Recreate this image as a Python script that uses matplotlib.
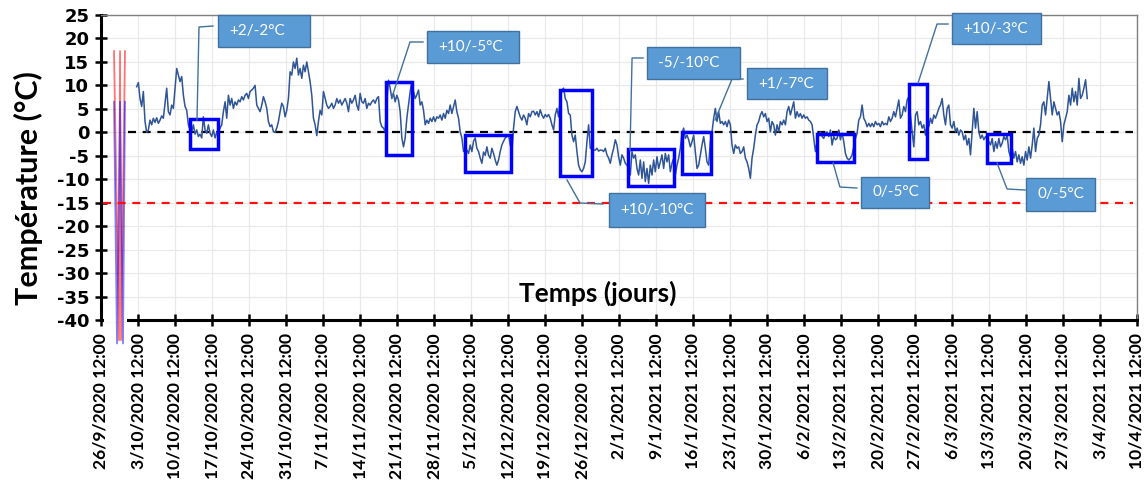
import numpy as np
import pandas as pd
import matplotlib
matplotlib.use("Agg")
import matplotlib.pyplot as plt
from matplotlib.patches import Rectangle

# ---------------- data ----------------
# time axis: days counted from 26/9/2020 12:00
axis_start = "2020-09-26"
tick_step_days = 7
n_ticks = 29
first_sample_day = 6.75        # first reading (~3/10/2020)
sample_step_days = 0.3155      # spacing of the readings

temps_oct = [9.7, 10.6, 7.2, 5.5, 8.7, 2.3, 0.0, 0.5, 2.6, 1.6,
             3.0, 2.1, 3.1, 1.9, 2.6, 3.5, 3.0, 6.2, 9.4, 4.4,
             3.7, 5.8, 5.1, 9.4, 13.6, 12.2, 10.8, 11.9, 7.9, 5.5,
             4.7, 1.6, 0.5, 0.1, 1.6, -0.4, 0.5, -0.9, -0.4, -1.2,
             3.3, 0.5, -0.2, 1.6, -0.2, -0.9, 0.5, -1.2, 0.0, 0.0,
             0.9, 1.6, 4.4, 6.5, 3.0, 7.9, 5.8, 7.2, 5.1, 6.5,
             5.8, 6.9, 6.5, 7.6, 6.9, 7.9, 8.3, 7.2, 8.7, 9.0,
             9.4, 10.0, 5.8, 5.1, 4.4, 5.8, 7.6, 6.5, 5.1, 2.3,
             1.2, 1.6, 0.1, 0.0, 0.9, 2.3, 4.4, 6.2, 5.5, 3.3,
             4.7, 7.2, 12.9, 12.2, 15.0, 13.6, 15.8, 12.2, 13.6, 11.5,
             14.3, 12.9, 15.0, 12.9, 10.8, 7.9, 3.0, 1.6, -0.7, 2.3,
             4.7, 3.7, 8.7, 7.2, 5.8, 5.1, 5.5]

temps_nov = [6.2, 5.1, 5.8, 7.2, 6.2, 6.9, 5.8, 6.5, 7.2, 6.2,
             4.4, 7.2, 6.2, 6.9, 7.9, 5.8, 4.7, 8.3, 6.5, 6.2,
             7.2, 5.1, 6.2, 5.8, 6.5, 6.9, 6.2, 7.2, 7.6, 2.3,
             1.2, 0.9, 0.1, 6.5, 11.1, 9.4, 7.2, 8.3, 6.5, 7.9,
             6.9, 4.4, -1.2, -3.1, -1.2, 3.0, 5.8, 8.7, 10.8, 8.7,
             7.2, 8.0, 9.0, 5.8, 6.5, 4.7, 1.6, 2.6, 1.9, 3.0,
             2.3, 3.3, 2.3, 3.3, 3.0, 3.7, 2.6, 4.0, 3.0, 4.7,
             4.0, 5.8, 4.0, 5.5, 6.9, 4.4, 3.0, 0.1, -1.2, -4.1,
             -3.4, -3.8, -4.5, -2.7, -4.1, -1.9, -1.2, -3.4, -4.1, -5.5,
             -6.6, -4.2, -4.9, -3.1, -4.9, -5.5, -3.4, -4.5, -5.9, -7.0,
             -5.9, -4.1, -2.7, -1.9, -1.2, -0.9, -0.5, -2.7, -4.1, 0.9,
             4.4, 5.5, 4.4, 3.3, 2.6]

temps_dec = [3.7, 3.0, 1.6, 4.0, 3.3, 4.4, 4.5, 3.7, 4.4, 3.3,
             4.8, 3.7, 3.0, 3.8, 3.3, 3.8, 3.0, 1.6, 0.5, 3.7,
             5.1, 3.3, 7.2, 9.0, 9.4, 7.2, 6.5, 4.0, 3.7, -0.6,
             -2.0, -0.6, -4.1, -7.0, -8.0, -8.4, -7.7, -6.3, -2.0, 1.6,
             -3.4, -3.6, -3.8, -3.8, -3.4, -4.0, -3.8, -3.8, -4.1, -3.4,
             -4.8, -5.5, -6.6, -4.8, -3.4, -1.6, -2.7, -5.2, -7.0, -4.8,
             -5.5, -6.6, -7.0, -7.7, -9.1, -4.1, -5.5, -4.8, -7.7, -9.1,
             -5.9, -9.8, -6.3, -10.5, -7.7, -10.9, -7.0, -9.1, -5.9, -8.4,
             -5.2, -7.7, -6.3, -4.8, -7.7, -4.5, -6.3, -4.8, -8.4, -6.6,
             -5.5, -9.1, -7.0, -5.5, -3.4, -0.2, 0.9, -1.3, -0.6, -1.6,
             -3.1, -2.0, -0.6, -4.1, -7.7, -7.0, -4.8, -2.7, -0.9, -3.4,
             -6.3, -7.0, -2.0, 0.1, 3.0, 5.1, 2.3, 4.4]

temps_jan = [1.9, 2.3, 1.6, 2.3, 1.2, 2.6, 1.6, -2.7, -4.5, -2.7,
             -3.4, -3.1, -4.5, -4.1, -3.1, -5.5, -6.3, -7.7, -9.8, -5.5,
             -3.4, -0.6, 1.6, 2.3, 3.7, 4.4, 3.3, 4.0, 2.3, 3.0,
             0.1, 2.3, 1.6, -0.6, 1.6, 0.1, 2.3, 1.6, 2.6, 1.6,
             4.4, 5.5, 3.7, 5.1, 6.5, 3.0, 4.4, 3.3, 4.0, 3.0,
             3.7, 3.0, 3.3, 2.6, 2.3, 1.6, -1.3, -4.1, -2.0, -0.6,
             0.1, -0.9, -1.3, -0.2, 0.1, -0.9, 0.5, -2.7, -0.9, -1.6,
             -1.3, 0.5, -1.6, -0.2, -2.0, -4.5, -5.5, -5.9, -5.5, -4.8,
             -3.1, -1.3, -0.2, 2.6, 3.3, 5.8, 3.0, 2.3, 1.2, 1.9,
             1.2, 1.9, 1.2, 2.3, 1.6, 1.9, 1.2, 2.3, 1.6, 1.9,
             1.6, 3.3, 2.3, 3.0, 4.4, 3.3, 5.1, 6.9, 3.0, 3.7,
             5.5, 4.4, 6.9]

temps_mar = [7.6, 3.7, 0.1, -3.1, 3.7, 4.4, 1.6, 2.3, 0.9, 1.6,
             -0.6, 1.6, 1.2, 3.0, 1.9, 3.7, 3.0, 4.0, 5.1, 5.8,
             7.2, 3.7, 1.6, 5.1, 5.8, 1.6, 0.9, 2.3, 0.1, 0.9,
             -0.6, 0.5, 0.1, -1.6, -0.6, -2.7, -1.3, -4.8, 0.1, 5.1,
             0.9, 4.4, 0.1, -1.3, -0.6, -1.6, -0.9, -1.6, -2.0, -2.7,
             -1.3, -4.1, -2.0, -3.4, -1.3, -3.1, -2.3, -0.9, -1.6, -0.6,
             -4.1, -5.2, -3.4, -5.5, -4.1, -6.3, -4.8, -6.6, -5.2, -7.0,
             -4.1, -5.9, -3.1, -5.5, -2.7, 0.9, -4.1, -1.3, -0.6, 1.6,
             5.8, 6.5, 3.7, 7.2, 10.8, 7.2, 3.7, 6.5, 5.1, 3.7,
             4.4, 2.3, -2.0, 1.6, 3.0, 4.4, 7.9, 5.8, 9.4, 6.5,
             8.7, 5.8, 11.5, 7.2, 7.9, 9.4, 11.2, 7.2]

zero_level = 0.0
frost_limit = -15.0

# spurious spikes at the start of the record
spike_red_days = [2.46, 3.40, 3.60, 3.80, 4.54]
spike_red_temps = [17.3, -44.3, 17.3, -44.3, 17.3]
spike_blue_days = [2.46, 3.03, 3.60, 4.16, 4.54]
spike_blue_temps = [6.5, -45.0, 6.5, -45.0, 6.5]

# highlighted zones (days, °C)
zone_day_start = [16.8, 53.9, 68.9, 86.8, 99.7, 109.9, 135.5, 152.9, 167.6]
zone_day_end = [22.1, 58.8, 77.6, 92.9, 108.4, 115.4, 142.5, 156.3, 172.2]
zone_temp_low = [-3.6, -4.9, -8.5, -9.3, -11.5, -8.9, -6.3, -5.6, -6.6]
zone_temp_high = [2.8, 10.7, -0.6, 9.0, -3.6, 0.0, -0.4, 10.2, -0.3]

callout_texts = ["+2/-2°C", "+10/-5°C", "+10/-10°C", "-5/-10°C",
                 "+1/-7°C", "0/-5°C", "+10/-3°C", "0/-5°C"]

y_ticks = list(range(-40, 30, 5))

# ---------------- figure ----------------
W, H = 1146, 487
fig = plt.figure(figsize=(W / 100, H / 100), dpi=100)
ax = fig.add_axes([101 / W, 1 - 320 / H, (1137 - 101) / W, 305 / H])

span_days = tick_step_days * (n_ticks - 1)
ax.set_xlim(0, span_days)
ax.set_ylim(-40, 25)

tick_dates = pd.date_range(axis_start, periods=n_ticks, freq=f"{tick_step_days}D")
tick_labels = [f"{d.day}/{d.month}/{d.year} 12:00" for d in tick_dates]
ax.set_xticks(np.arange(n_ticks) * tick_step_days)
ax.set_xticklabels(tick_labels, rotation=90, fontsize=12.6, fontweight="bold",
                   family=["Lato", "DejaVu Sans"])
ax.set_yticks(y_ticks)
ax.set_yticklabels([str(v) for v in y_ticks], fontsize=13, fontweight="bold",
                   family=["DejaVu Sans"])

ax.grid(True, color="#E9E9E9", lw=0.9, zorder=0)
ax.set_axisbelow(True)
for s in ("left", "bottom"):
    ax.spines[s].set_linewidth(2.2)
    ax.spines[s].set_color("black")
for s in ("top", "right"):
    ax.spines[s].set_linewidth(1.0)
    ax.spines[s].set_color("#7F7F7F")
ax.tick_params(axis="both", direction="inout", length=9, width=1.8, color="black")
ax.tick_params(axis="y", pad=4)
ax.tick_params(axis="x", pad=5)

# gap in the time axis where the spikes cross it
ax.plot([0.6, 4.9], [-40, -40], color="white", lw=3.0, clip_on=False, zorder=2.7,
        solid_capstyle="butt")

# spikes
ax.plot(spike_red_days, spike_red_temps, color="#FF0000", alpha=0.55, lw=1.3,
        clip_on=False, zorder=2.8)
ax.plot(spike_blue_days, spike_blue_temps, color="#0000FF", alpha=0.5, lw=1.3,
        clip_on=False, zorder=2.8)

# reference lines
ax.plot([5.1, 195.3], [zero_level, zero_level], color="black", lw=1.6,
        dashes=(3.6, 3.0), zorder=3)
ax.plot([0.4, 195.3], [frost_limit, frost_limit], color="#FF1010", lw=1.6,
        dashes=(3.6, 3.0), zorder=3)

# temperature series
temps = np.array(temps_oct + temps_nov + temps_dec + temps_jan + temps_mar)
days = first_sample_day + sample_step_days * np.arange(len(temps))
ax.plot(days, temps, color="#2F5597", lw=1.1, zorder=4)

# zones
for x0, x1, y0, y1 in zip(zone_day_start, zone_day_end, zone_temp_low, zone_temp_high):
    ax.add_patch(Rectangle((x0, y0), x1 - x0, y1 - y0, fill=False,
                           edgecolor="#0000FF", lw=2.5, zorder=5))

# callouts: box (x0, x1, y0, y1) and leader path
boxes = [(22.1, 39.5, 18.2, 25.0), (61.7, 79.1, 14.8, 21.6),
         (96.1, 114.3, -20.2, -12.9), (103.3, 120.9, 11.4, 18.2),
         (122.2, 137.4, 7.1, 13.7), (143.8, 156.7, -16.1, -9.5),
         (161.0, 177.8, 18.8, 25.4), (175.0, 188.1, -16.8, -9.7)]
leaders = [
    [(21.19, 22.66), (18.54, 22.44), (18.16, 2.62)],
    [(60.92, 19.25), (58.46, 19.25), (55.06, 7.52)],
    [(94.98, -15.28), (90.63, -15.07), (88.17, -10.17)],
    [(102.55, 15.84), (100.47, 15.84), (100.09, -3.77)],
    [(121.47, 11.36), (119.39, 11.36), (116.17, 2.62)],
    [(138.5, -6.54), (139.8, -11.66), (143.0, -11.87)],
    [(160.25, 23.08), (158.17, 23.08), (154.58, 10.51)],
    [(169.52, -6.54), (171.42, -12.08), (174.82, -12.30)],
]
for txt, (x0, x1, y0, y1), path in zip(callout_texts, boxes, leaders):
    lx, ly = zip(*path)
    ax.plot(lx, ly, color="#41719C", lw=1.0, zorder=6, clip_on=False)
    ax.add_patch(Rectangle((x0, y0), x1 - x0, y1 - y0, facecolor="#5B9BD5",
                           edgecolor="#41719C", lw=1.0, zorder=7, clip_on=False))
    ax.text(x0 + 2.1, (y0 + y1) / 2, txt, color="white", fontsize=11,
            family=["Lato", "DejaVu Sans"], ha="left", va="center", zorder=8)

# axis titles
ax.text(94.0, -34.3, "Temps (jours)", fontsize=19, fontweight="bold",
        family=["Lato", "DejaVu Sans"], ha="center", va="center", zorder=8)
fig.text(28 / W, 1 - 188 / H, "Température (°C)", rotation=90, fontsize=22,
         fontweight="bold", family=["Lato", "DejaVu Sans"], ha="center", va="center")

fig.savefig("out.png", dpi=100)
